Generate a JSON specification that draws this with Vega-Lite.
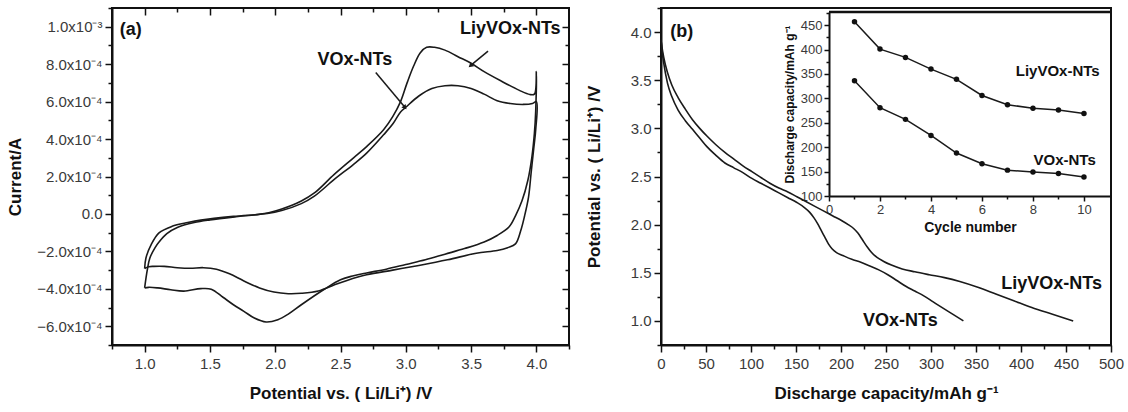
{
 "$schema": "https://vega.github.io/schema/vega-lite/v6.json",
 "background": "white",
 "padding": {"left": 5, "top": 0, "right": 5, "bottom": 5},
 "spacing": 92,
 "bounds": "flush",
 "config": {
  "view": {"stroke": "#111", "strokeWidth": 2},
  "axis": {"grid": false, "domainColor": "#111", "domainWidth": 2, "tickColor": "#111", "tickWidth": 1.5, "labelFont": "Liberation Sans", "labelFontSize": 15, "labelColor": "#3a3a3a", "titleFont": "Liberation Sans", "titleFontSize": 17, "titleFontWeight": "bold", "titleColor": "#111", "labelFlush": false, "labelOverlap": false},
  "text": {"font": "Liberation Sans", "color": "#111"}
 },
 "datasets": {
  "cv": [
   {"s":"L","i":0,"v":1.0,"c":-3.95e-4},{"s":"L","i":1,"v":1.02,"c":-3.0e-4},{"s":"L","i":2,"v":1.04,"c":-2.35e-4},{"s":"L","i":3,"v":1.08,"c":-1.8e-4},{"s":"L","i":4,"v":1.11,"c":-1.5e-4},{"s":"L","i":5,"v":1.17,"c":-1.05e-4},{"s":"L","i":6,"v":1.25,"c":-7.2e-5},{"s":"L","i":7,"v":1.38,"c":-4.6e-5},{"s":"L","i":8,"v":1.5,"c":-3.2e-5},{"s":"L","i":9,"v":1.7,"c":-1.5e-5},{"s":"L","i":10,"v":1.85,"c":-4e-6},{"s":"L","i":11,"v":1.95,"c":6e-6},{"s":"L","i":12,"v":2.05,"c":2.6e-5},{"s":"L","i":13,"v":2.2,"c":6.9e-5},{"s":"L","i":14,"v":2.3,"c":1.12e-4},{"s":"L","i":15,"v":2.45,"c":2.1e-4},{"s":"L","i":16,"v":2.6,"c":3.0e-4},{"s":"L","i":17,"v":2.7,"c":3.6e-4},{"s":"L","i":18,"v":2.83,"c":4.5e-4},{"s":"L","i":19,"v":2.9,"c":5.2e-4},{"s":"L","i":20,"v":2.96,"c":6.0e-4},{"s":"L","i":21,"v":3.01,"c":7.0e-4},{"s":"L","i":22,"v":3.06,"c":7.9e-4},{"s":"L","i":23,"v":3.11,"c":8.6e-4},{"s":"L","i":24,"v":3.16,"c":8.9e-4},{"s":"L","i":25,"v":3.22,"c":8.9e-4},{"s":"L","i":26,"v":3.3,"c":8.75e-4},{"s":"L","i":27,"v":3.4,"c":8.4e-4},{"s":"L","i":28,"v":3.5,"c":8.05e-4},{"s":"L","i":29,"v":3.6,"c":7.6e-4},{"s":"L","i":30,"v":3.73,"c":7.1e-4},{"s":"L","i":31,"v":3.87,"c":6.6e-4},{"s":"L","i":32,"v":3.95,"c":6.38e-4},{"s":"L","i":33,"v":3.985,"c":6.4e-4},{"s":"L","i":34,"v":4.0,"c":7.6e-4},
   {"s":"L","i":35,"v":3.995,"c":5.5e-4},{"s":"L","i":36,"v":3.985,"c":4.3e-4},{"s":"L","i":37,"v":3.965,"c":3.0e-4},{"s":"L","i":38,"v":3.935,"c":1.8e-4},{"s":"L","i":39,"v":3.89,"c":7e-5},{"s":"L","i":40,"v":3.84,"c":-1e-5},{"s":"L","i":41,"v":3.79,"c":-7e-5},{"s":"L","i":42,"v":3.7,"c":-1.15e-4},{"s":"L","i":43,"v":3.6,"c":-1.5e-4},{"s":"L","i":44,"v":3.45,"c":-1.85e-4},{"s":"L","i":45,"v":3.3,"c":-2.15e-4},{"s":"L","i":46,"v":3.15,"c":-2.45e-4},{"s":"L","i":47,"v":3.0,"c":-2.7e-4},{"s":"L","i":48,"v":2.85,"c":-2.95e-4},{"s":"L","i":49,"v":2.7,"c":-3.15e-4},{"s":"L","i":50,"v":2.6,"c":-3.3e-4},{"s":"L","i":51,"v":2.5,"c":-3.51e-4},{"s":"L","i":52,"v":2.37,"c":-4.05e-4},{"s":"L","i":53,"v":2.2,"c":-4.85e-4},{"s":"L","i":54,"v":2.1,"c":-5.35e-4},{"s":"L","i":55,"v":2.02,"c":-5.65e-4},{"s":"L","i":56,"v":1.93,"c":-5.77e-4},{"s":"L","i":57,"v":1.84,"c":-5.56e-4},{"s":"L","i":58,"v":1.76,"c":-5.2e-4},{"s":"L","i":59,"v":1.68,"c":-4.85e-4},{"s":"L","i":60,"v":1.6,"c":-4.45e-4},{"s":"L","i":61,"v":1.51,"c":-4.02e-4},{"s":"L","i":62,"v":1.43,"c":-3.99e-4},{"s":"L","i":63,"v":1.3,"c":-4.12e-4},{"s":"L","i":64,"v":1.2,"c":-4.05e-4},{"s":"L","i":65,"v":1.1,"c":-3.95e-4},{"s":"L","i":66,"v":1.03,"c":-3.92e-4},{"s":"L","i":67,"v":1.0,"c":-3.96e-4},
   {"s":"V","i":0,"v":1.0,"c":-2.92e-4},{"s":"V","i":1,"v":1.01,"c":-2.35e-4},{"s":"V","i":2,"v":1.05,"c":-1.64e-4},{"s":"V","i":3,"v":1.11,"c":-1.01e-4},{"s":"V","i":4,"v":1.21,"c":-6.6e-5},{"s":"V","i":5,"v":1.33,"c":-4.6e-5},{"s":"V","i":6,"v":1.43,"c":-3.3e-5},{"s":"V","i":7,"v":1.68,"c":-1.3e-5},{"s":"V","i":8,"v":1.94,"c":2e-6},{"s":"V","i":9,"v":2.05,"c":1.8e-5},{"s":"V","i":10,"v":2.2,"c":5.5e-5},{"s":"V","i":11,"v":2.3,"c":9.5e-5},{"s":"V","i":12,"v":2.45,"c":1.83e-4},{"s":"V","i":13,"v":2.6,"c":2.65e-4},{"s":"V","i":14,"v":2.7,"c":3.25e-4},{"s":"V","i":15,"v":2.83,"c":4.23e-4},{"s":"V","i":16,"v":2.9,"c":4.8e-4},{"s":"V","i":17,"v":2.96,"c":5.45e-4},{"s":"V","i":18,"v":3.0,"c":5.7e-4},{"s":"V","i":19,"v":3.1,"c":6.3e-4},{"s":"V","i":20,"v":3.2,"c":6.7e-4},{"s":"V","i":21,"v":3.3,"c":6.85e-4},{"s":"V","i":22,"v":3.4,"c":6.85e-4},{"s":"V","i":23,"v":3.5,"c":6.7e-4},{"s":"V","i":24,"v":3.6,"c":6.4e-4},{"s":"V","i":25,"v":3.7,"c":6.05e-4},{"s":"V","i":26,"v":3.8,"c":5.9e-4},{"s":"V","i":27,"v":3.9,"c":5.85e-4},{"s":"V","i":28,"v":3.97,"c":5.9e-4},{"s":"V","i":29,"v":4.0,"c":6.0e-4},
   {"s":"V","i":30,"v":3.995,"c":4.5e-4},{"s":"V","i":31,"v":3.98,"c":3.5e-4},{"s":"V","i":32,"v":3.96,"c":2.2e-4},{"s":"V","i":33,"v":3.94,"c":9e-5},{"s":"V","i":34,"v":3.91,"c":-1e-5},{"s":"V","i":35,"v":3.88,"c":-9e-5},{"s":"V","i":36,"v":3.84,"c":-1.6e-4},{"s":"V","i":37,"v":3.78,"c":-1.8e-4},{"s":"V","i":38,"v":3.7,"c":-1.95e-4},{"s":"V","i":39,"v":3.54,"c":-2.1e-4},{"s":"V","i":40,"v":3.32,"c":-2.45e-4},{"s":"V","i":41,"v":3.1,"c":-2.75e-4},{"s":"V","i":42,"v":2.9,"c":-3.0e-4},{"s":"V","i":43,"v":2.7,"c":-3.25e-4},{"s":"V","i":44,"v":2.55,"c":-3.55e-4},{"s":"V","i":45,"v":2.45,"c":-3.8e-4},{"s":"V","i":46,"v":2.33,"c":-4.12e-4},{"s":"V","i":47,"v":2.2,"c":-4.24e-4},{"s":"V","i":48,"v":2.1,"c":-4.26e-4},{"s":"V","i":49,"v":1.99,"c":-4.17e-4},{"s":"V","i":50,"v":1.88,"c":-3.95e-4},{"s":"V","i":51,"v":1.76,"c":-3.58e-4},{"s":"V","i":52,"v":1.65,"c":-3.2e-4},{"s":"V","i":53,"v":1.55,"c":-2.95e-4},{"s":"V","i":54,"v":1.45,"c":-2.87e-4},{"s":"V","i":55,"v":1.35,"c":-2.9e-4},{"s":"V","i":56,"v":1.25,"c":-2.87e-4},{"s":"V","i":57,"v":1.15,"c":-2.8e-4},{"s":"V","i":58,"v":1.07,"c":-2.8e-4},{"s":"V","i":59,"v":1.03,"c":-2.82e-4},{"s":"V","i":60,"v":1.0,"c":-2.92e-4}
  ],
  "arrA": [
   {"k":"V","v":2.77,"c":7.55e-4,"v2":2.99,"c2":5.72e-4},
   {"k":"L","v":3.63,"c":8.7e-4,"v2":3.5,"c2":7.95e-4}
  ],
  "labA": [
   {"v":0.893,"c":9.8e-4,"t":"(a)"},
   {"v":2.61,"c":8.2e-4,"t":"VOx-NTs"},
   {"v":3.8,"c":9.9e-4,"t":"LiyVOx-NTs"}
  ],
  "dis": [
   {"s":"L","q":0,"v":3.92},{"s":"L","q":1,"v":3.85},{"s":"L","q":3,"v":3.74},{"s":"L","q":7.2,"v":3.58},{"s":"L","q":12,"v":3.45},{"s":"L","q":19,"v":3.32},{"s":"L","q":27,"v":3.2},{"s":"L","q":35,"v":3.09},{"s":"L","q":43,"v":3.0},{"s":"L","q":51,"v":2.92},{"s":"L","q":61,"v":2.83},{"s":"L","q":71,"v":2.75},{"s":"L","q":81,"v":2.68},{"s":"L","q":91,"v":2.61},{"s":"L","q":101,"v":2.55},{"s":"L","q":111,"v":2.49},{"s":"L","q":121,"v":2.43},{"s":"L","q":131,"v":2.38},{"s":"L","q":141,"v":2.34},{"s":"L","q":151,"v":2.29},{"s":"L","q":161,"v":2.24},{"s":"L","q":171,"v":2.19},{"s":"L","q":181,"v":2.14},{"s":"L","q":191,"v":2.09},{"s":"L","q":201,"v":2.04},{"s":"L","q":208,"v":2.0},{"s":"L","q":214,"v":1.96},{"s":"L","q":219,"v":1.91},{"s":"L","q":224,"v":1.84},{"s":"L","q":229,"v":1.77},{"s":"L","q":234,"v":1.71},{"s":"L","q":240,"v":1.66},{"s":"L","q":247,"v":1.62},{"s":"L","q":256,"v":1.58},{"s":"L","q":268,"v":1.54},{"s":"L","q":282,"v":1.51},{"s":"L","q":298,"v":1.48},{"s":"L","q":315,"v":1.45},{"s":"L","q":332,"v":1.41},{"s":"L","q":352,"v":1.35},{"s":"L","q":372,"v":1.28},{"s":"L","q":392,"v":1.21},{"s":"L","q":412,"v":1.14},{"s":"L","q":435,"v":1.07},{"s":"L","q":458,"v":1.0},
   {"s":"V","q":0,"v":3.92},{"s":"V","q":1,"v":3.82},{"s":"V","q":3,"v":3.68},{"s":"V","q":7.2,"v":3.47},{"s":"V","q":12,"v":3.33},{"s":"V","q":19,"v":3.19},{"s":"V","q":27,"v":3.08},{"s":"V","q":35,"v":2.99},{"s":"V","q":43,"v":2.9},{"s":"V","q":51,"v":2.81},{"s":"V","q":61,"v":2.72},{"s":"V","q":71,"v":2.64},{"s":"V","q":81,"v":2.59},{"s":"V","q":91,"v":2.54},{"s":"V","q":101,"v":2.48},{"s":"V","q":111,"v":2.43},{"s":"V","q":121,"v":2.38},{"s":"V","q":131,"v":2.33},{"s":"V","q":141,"v":2.28},{"s":"V","q":151,"v":2.23},{"s":"V","q":159,"v":2.18},{"s":"V","q":165,"v":2.13},{"s":"V","q":170,"v":2.07},{"s":"V","q":174,"v":2.01},{"s":"V","q":178,"v":1.94},{"s":"V","q":182,"v":1.87},{"s":"V","q":186,"v":1.8},{"s":"V","q":190,"v":1.75},{"s":"V","q":195,"v":1.71},{"s":"V","q":202,"v":1.68},{"s":"V","q":212,"v":1.64},{"s":"V","q":222,"v":1.61},{"s":"V","q":232,"v":1.57},{"s":"V","q":242,"v":1.53},{"s":"V","q":252,"v":1.48},{"s":"V","q":262,"v":1.42},{"s":"V","q":272,"v":1.36},{"s":"V","q":282,"v":1.31},{"s":"V","q":292,"v":1.26},{"s":"V","q":302,"v":1.2},{"s":"V","q":312,"v":1.14},{"s":"V","q":324,"v":1.07},{"s":"V","q":336,"v":1.0}
  ],
  "labB": [
   {"q":23,"v":4.0,"t":"(b)"},
   {"q":434,"v":1.38,"t":"LiyVOx-NTs"},
   {"q":266,"v":1.0,"t":"VOx-NTs"}
  ],
  "cyc": [
   {"s":"L","n":1,"q":457},{"s":"L","n":2,"q":401},{"s":"L","n":3,"q":384},{"s":"L","n":4,"q":360},{"s":"L","n":5,"q":339},{"s":"L","n":6,"q":306},{"s":"L","n":7,"q":287},{"s":"L","n":8,"q":280},{"s":"L","n":9,"q":276},{"s":"L","n":10,"q":269},
   {"s":"V","n":1,"q":336},{"s":"V","n":2,"q":281},{"s":"V","n":3,"q":257},{"s":"V","n":4,"q":224},{"s":"V","n":5,"q":188},{"s":"V","n":6,"q":166},{"s":"V","n":7,"q":153},{"s":"V","n":8,"q":149},{"s":"V","n":9,"q":146},{"s":"V","n":10,"q":139}
  ],
  "labI": [
   {"n":8.97,"q":357,"t":"LiyVOx-NTs"},
   {"n":9.24,"q":174,"t":"VOx-NTs"}
  ]
 },
 "hconcat": [
  {
   "width": 457, "height": 337,
   "resolve": {"axis": {"x": "independent", "y": "independent"}},
   "layer": [
    {
     "data": {"name": "cv"},
     "mark": {"type": "line", "color": "#1a1a1a", "strokeWidth": 1.6, "interpolate": "catmull-rom"},
     "encoding": {
      "x": {"field": "v", "type": "quantitative", "scale": {"domain": [0.75, 4.25], "nice": false, "zero": false},
        "axis": {"orient": "bottom", "title": "Potential vs. ( Li/Li⁺) /V", "values": [0.75,1,1.25,1.5,1.75,2,2.25,2.5,2.75,3,3.25,3.5,3.75,4,4.25],
          "labelExpr": "abs(datum.value*2-round(datum.value*2))<0.001 && datum.value>0.9 && datum.value<4.1 ? format(datum.value,'.1f') : ''",
          "tickSize": {"condition": {"test": "abs(datum.value*2-round(datum.value*2))<0.001", "value": 7}, "value": 4},
          "labelPadding": 4, "titlePadding": 14}},
      "y": {"field": "c", "type": "quantitative", "scale": {"domain": [-0.0007, 0.0011], "nice": false, "zero": false},
        "axis": {"orient": "left", "title": "Current/A", "values": [-0.0007,-0.0006,-0.0005,-0.0004,-0.0003,-0.0002,-0.0001,0,0.0001,0.0002,0.0003,0.0004,0.0005,0.0006,0.0007,0.0008,0.0009,0.001,0.0011],
          "labelExpr": "abs(datum.value*5000-round(datum.value*5000))<0.001 ? (abs(datum.value)<1e-9 ? '0.0' : (abs(datum.value)>0.00095 ? format(datum.value*1000,'.1f')+'x10⁻³' : format(datum.value*10000,'.1f')+'x10⁻⁴')) : ''",
          "tickSize": {"condition": {"test": "abs(datum.value*5000-round(datum.value*5000))<0.001", "value": 7}, "value": 4},
          "labelPadding": 3, "titlePadding": 12}},
      "detail": {"field": "s"},
      "order": {"field": "i", "type": "quantitative"}
     }
    },
    {
     "data": {"name": "arrA"},
     "mark": {"type": "rule", "color": "#1a1a1a", "strokeWidth": 1.5},
     "encoding": {
      "x": {"field": "v", "type": "quantitative", "axis": null},
      "y": {"field": "c", "type": "quantitative", "axis": null},
      "x2": {"field": "v2"},
      "y2": {"field": "c2"}
     }
    },
    {
     "data": {"name": "arrA"},
     "transform": [{"filter": "datum.k === 'V'"}],
     "mark": {"type": "point", "shape": "triangle", "filled": true, "color": "#1a1a1a", "size": 30, "angle": 140, "opacity": 1},
     "encoding": {
      "x": {"field": "v2", "type": "quantitative", "axis": null},
      "y": {"field": "c2", "type": "quantitative", "axis": null}
     }
    },
    {
     "data": {"name": "arrA"},
     "transform": [{"filter": "datum.k === 'L'"}],
     "mark": {"type": "point", "shape": "triangle", "filled": true, "color": "#1a1a1a", "size": 30, "angle": 230, "opacity": 1},
     "encoding": {
      "x": {"field": "v2", "type": "quantitative", "axis": null},
      "y": {"field": "c2", "type": "quantitative", "axis": null}
     }
    },
    {
     "data": {"name": "labA"},
     "mark": {"type": "text", "fontSize": 18, "fontWeight": "bold", "color": "#111"},
     "encoding": {
      "x": {"field": "v", "type": "quantitative", "axis": null},
      "y": {"field": "c", "type": "quantitative", "axis": null},
      "text": {"field": "t"}
     }
    },
    {
     "data": {"name": "cv"},
     "mark": {"type": "point", "opacity": 0},
     "encoding": {
      "x": {"field": "v", "type": "quantitative",
        "axis": {"orient": "top", "title": null, "labels": false, "domain": false, "values": [1,1.25,1.5,1.75,2,2.25,2.5,2.75,3,3.25,3.5,3.75,4],
          "tickSize": {"condition": {"test": "abs(datum.value*2-round(datum.value*2))<0.001", "value": -7}, "value": -4}}},
      "y": {"field": "c", "type": "quantitative",
        "axis": {"orient": "right", "title": null, "labels": false, "domain": false, "values": [-0.0006,-0.0005,-0.0004,-0.0003,-0.0002,-0.0001,0,0.0001,0.0002,0.0003,0.0004,0.0005,0.0006,0.0007,0.0008,0.0009,0.001],
          "tickSize": {"condition": {"test": "abs(datum.value*5000-round(datum.value*5000))<0.001", "value": -7}, "value": -4}}}
     }
    }
   ]
  },
  {
   "width": 450, "height": 337,
   "resolve": {"scale": {"x": "independent", "y": "independent"}, "axis": {"x": "independent", "y": "independent"}},
   "layer": [
    {
     "data": {"name": "dis"},
     "mark": {"type": "line", "color": "#1a1a1a", "strokeWidth": 1.6, "interpolate": "monotone"},
     "encoding": {
      "x": {"field": "q", "type": "quantitative", "scale": {"domain": [0, 500], "nice": false, "zero": false},
        "axis": {"orient": "bottom", "title": "Discharge capacity/mAh g⁻¹", "values": [0,25,50,75,100,125,150,175,200,225,250,275,300,325,350,375,400,425,450,475,500],
          "labelExpr": "datum.value % 50 === 0 ? format(datum.value,'d') : ''",
          "tickSize": {"condition": {"test": "datum.value % 50 === 0", "value": 7}, "value": 4},
          "labelPadding": 4, "titlePadding": 14}},
      "y": {"field": "v", "type": "quantitative", "scale": {"domain": [0.75, 4.25], "nice": false, "zero": false},
        "axis": {"orient": "left", "title": "Potential vs. ( Li/Li⁺) /V", "values": [1,1.5,2,2.5,3,3.5,4], "format": ".1f",
          "tickSize": 7, "labelPadding": 3, "titlePadding": 27}},
      "detail": {"field": "s"}
     }
    },
    {
     "data": {"name": "dis"},
     "mark": {"type": "point", "opacity": 0},
     "encoding": {
      "x": {"field": "q", "type": "quantitative", "scale": {"domain": [0, 500], "nice": false, "zero": false}, "axis": null},
      "y": {"field": "v", "type": "quantitative", "scale": {"domain": [0.75, 4.25], "nice": false, "zero": false},
        "axis": {"orient": "left", "title": null, "labels": false, "domain": false, "values": [0.75,1.25,1.75,2.25,2.75,3.25,3.75,4.25], "tickSize": 4}}
     }
    },
    {
     "data": {"name": "labB"},
     "mark": {"type": "text", "fontSize": 18, "fontWeight": "bold", "color": "#111"},
     "encoding": {
      "x": {"field": "q", "type": "quantitative", "scale": {"domain": [0, 500], "nice": false, "zero": false}, "axis": null},
      "y": {"field": "v", "type": "quantitative", "scale": {"domain": [0.75, 4.25], "nice": false, "zero": false}, "axis": null},
      "text": {"field": "t"}
     }
    },
    {
     "data": {"name": "cyc"},
     "mark": {"type": "line", "color": "#1a1a1a", "strokeWidth": 1.5, "point": {"filled": true, "size": 30, "color": "#111"}},
     "encoding": {
      "x": {"field": "n", "type": "quantitative", "scale": {"domain": [0, 11.06], "range": [168, 450], "nice": false, "zero": false},
        "axis": {"orient": "bottom", "offset": -149, "title": "Cycle number", "titleFontSize": 14, "labelFontSize": 13, "values": [0,2,4,6,8,10], "format": "d",
          "tickSize": 5, "labelPadding": 2, "titlePadding": 4}},
      "y": {"field": "q", "type": "quantitative", "scale": {"domain": [100, 477], "range": [188, 4], "nice": false, "zero": false},
        "axis": {"orient": "left", "offset": -168, "title": "Discharge capacity/mAh g⁻¹", "titleFontSize": 12, "labelFontSize": 13, "values": [100,150,200,250,300,350,400,450], "format": "d",
          "tickSize": 5, "labelPadding": 2, "titlePadding": 4}},
      "detail": {"field": "s"}
     }
    },
    {
     "data": {"name": "cyc"},
     "mark": {"type": "point", "opacity": 0},
     "encoding": {
      "x": {"field": "n", "type": "quantitative", "scale": {"domain": [0, 11.06], "range": [168, 450], "nice": false, "zero": false},
        "axis": {"orient": "bottom", "offset": -149, "title": null, "labels": false, "domain": false, "values": [1,3,5,7,9], "tickSize": 3}},
      "y": {"field": "q", "type": "quantitative", "scale": {"domain": [100, 477], "range": [188, 4], "nice": false, "zero": false},
        "axis": {"orient": "left", "offset": -168, "title": null, "labels": false, "domain": false, "values": [125,175,225,275,325,375,425,475], "tickSize": 3}}
     }
    },
    {
     "data": {"name": "labI"},
     "mark": {"type": "text", "fontSize": 15, "fontWeight": "bold", "color": "#111"},
     "encoding": {
      "x": {"field": "n", "type": "quantitative", "scale": {"domain": [0, 11.06], "range": [168, 450], "nice": false, "zero": false}, "axis": null},
      "y": {"field": "q", "type": "quantitative", "scale": {"domain": [100, 477], "range": [188, 4], "nice": false, "zero": false}, "axis": null},
      "text": {"field": "t"}
     }
    },
    {
     "data": {"values": [{}]},
     "mark": {"type": "rule", "color": "#111", "strokeWidth": 2.5},
     "encoding": {
      "x": {"datum": 0, "type": "quantitative", "scale": {"domain": [0, 11.06], "range": [168, 450], "nice": false, "zero": false}, "axis": null},
      "x2": {"datum": 11.06},
      "y": {"datum": 477, "type": "quantitative", "scale": {"domain": [100, 477], "range": [188, 4], "nice": false, "zero": false}, "axis": null}
     }
    }
   ]
  }
 ]
}
